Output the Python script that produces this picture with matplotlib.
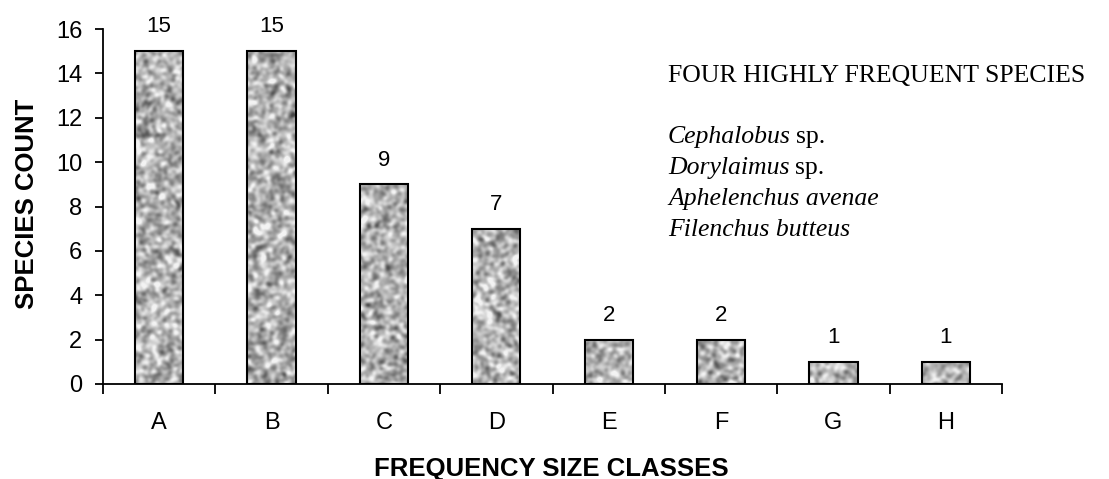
import numpy as np
import matplotlib
matplotlib.use("Agg")
import matplotlib.pyplot as plt

categories = ["A", "B", "C", "D", "E", "F", "G", "H"]
species_count = [15, 15, 9, 7, 2, 2, 1, 1]
y_ticks = [0, 2, 4, 6, 8, 10, 12, 14, 16]
note_title = "FOUR HIGHLY FREQUENT SPECIES"
note_species = [("Cephalobus", "sp."), ("Dorylaimus", "sp."),
                ("Aphelenchus avenae", ""), ("Filenchus butteus", "")]

W, H = 1109, 479
fig = plt.figure(figsize=(W / 100, H / 100), dpi=100)
ax = fig.add_axes([103 / W, 1 - 384 / H, (1002 - 103) / W, (384 - 29) / H])

x = np.arange(len(categories))
ax.set_xlim(-0.5, len(categories) - 0.5)
ax.set_ylim(0, 16)

# mottled grey fill texture for the bars
rng = np.random.default_rng(7)
h, w = 360, 900
noise = rng.standard_normal((h, w))
ky = np.fft.fftfreq(h)[:, None]
kx = np.fft.fftfreq(w)[None, :]
sigma = 1.9
filt = np.exp(-2 * (np.pi * sigma) ** 2 * (kx ** 2 + ky ** 2))
smooth = np.real(np.fft.ifft2(np.fft.fft2(noise) * filt))
smooth = (smooth - smooth.mean()) / smooth.std()
tex = np.clip(0.71 + 0.12 * smooth, 0.28, 0.95)

bars = ax.bar(x, species_count, width=0.43, facecolor="none",
              edgecolor="black", linewidth=1.5, zorder=3)
for b in bars:
    im = ax.imshow(tex, cmap="gray", vmin=0, vmax=1, aspect="auto",
                   extent=(-0.5, len(categories) - 0.5, 0, 16),
                   interpolation="bilinear", zorder=2)
    im.set_clip_path(b)

sans = "Liberation Sans"
serif = "Liberation Serif"

for xi, v in zip(x, species_count):
    ax.annotate(str(v), (xi, v), xytext=(0, 17.5), textcoords="offset points",
                ha="center", va="center", fontsize=16, family=sans)

for s in ("top", "right"):
    ax.spines[s].set_visible(False)
for s in ("left", "bottom"):
    ax.spines[s].set_linewidth(1.3)

ax.set_yticks(y_ticks)
ax.set_yticklabels([str(t) for t in y_ticks], family=sans, fontsize=17)
ax.tick_params(axis="y", direction="out", length=6, width=1.3, pad=9)

ax.set_xticks(np.arange(-0.5, len(categories), 1.0))
ax.set_xticklabels([])
ax.set_xticks(x, minor=True)
ax.set_xticklabels(categories, minor=True, family=sans, fontsize=17)
ax.tick_params(axis="x", which="major", direction="out", length=7, width=1.3)
ax.tick_params(axis="x", which="minor", length=0, pad=20)

fig.text(551 / W, 1 - 476 / H, "FREQUENCY SIZE CLASSES", family=sans,
         fontsize=18.5, fontweight="bold", ha="center", va="baseline")
fig.text(27 / W, 1 - 204 / H, "SPECIES COUNT", family=sans, fontsize=18.5,
         fontweight="bold", rotation=90, ha="center", va="center")

fig.text(668 / W, 1 - 82 / H, note_title, family=serif,
         fontsize=18.5, va="baseline", ha="left")
baselines = [143, 174, 205, 236]
fig.canvas.draw()
for (genus, rest), yb in zip(note_species, baselines):
    yy = 1 - yb / H
    t = fig.text(668 / W, yy, genus, family=serif, style="italic",
                 fontsize=18.5, va="baseline", ha="left")
    if rest:
        bb = t.get_window_extent(renderer=fig.canvas.get_renderer())
        fig.text((bb.x1 + 5) / W, yy, rest, family=serif,
                 fontsize=18.5, va="baseline", ha="left")

fig.savefig("out.png", dpi=100)
